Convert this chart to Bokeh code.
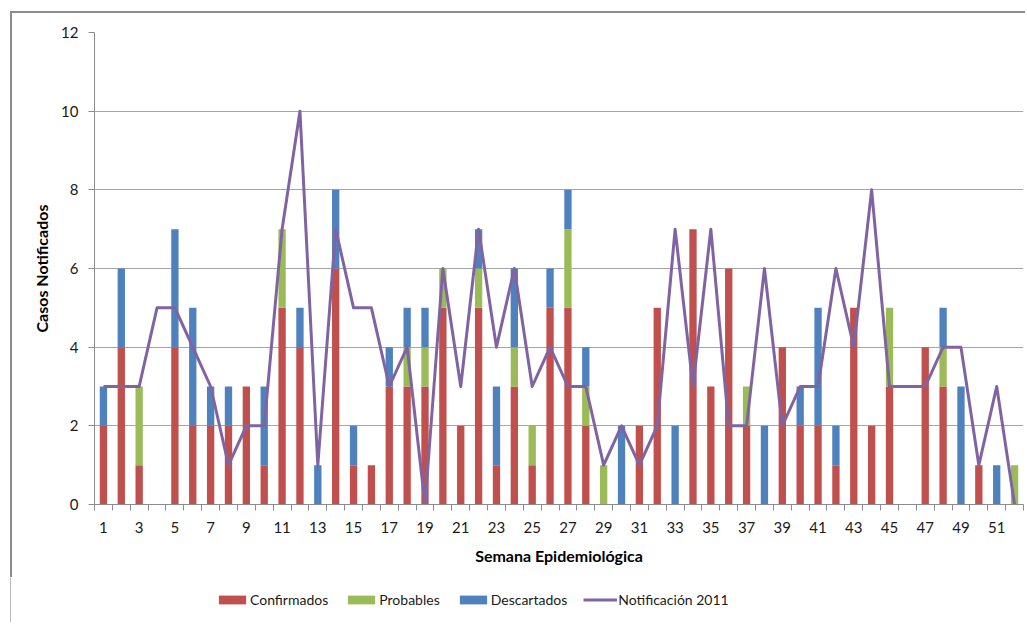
from bokeh.plotting import figure
from bokeh.layouts import column
from bokeh.models import Range1d, FixedTicker, Legend, LegendItem, ColumnDataSource
from bokeh.embed import file_html
from bokeh.resources import INLINE

# Epidemiological weeks 1..52
semanas = list(range(1, 53))

confirmados = [2, 4, 1, 0, 4, 2, 2, 2, 3, 1, 5, 4, 0, 6, 1, 1, 3, 3, 3, 5, 2, 5, 1, 3, 1, 5,
               5, 2, 0, 0, 2, 5, 0, 7, 3, 6, 2, 0, 4, 2, 2, 1, 5, 2, 3, 0, 4, 3, 0, 1, 0, 0]
probables = [0, 0, 2, 0, 0, 0, 0, 0, 0, 0, 2, 0, 0, 0, 0, 0, 0, 1, 1, 1, 0, 1, 0, 1, 1, 0,
             2, 1, 1, 0, 0, 0, 0, 0, 0, 0, 1, 0, 0, 0, 0, 0, 0, 0, 2, 0, 0, 1, 0, 0, 0, 1]
descartados = [1, 2, 0, 0, 3, 3, 1, 1, 0, 2, 0, 1, 1, 2, 1, 0, 1, 1, 1, 0, 0, 1, 2, 2, 0, 1,
               1, 1, 0, 2, 0, 0, 2, 0, 0, 0, 0, 2, 0, 1, 3, 1, 0, 0, 0, 0, 0, 1, 3, 0, 1, 0]
notificacion_2011 = [3, 3, 3, 5, 5, 4, 3, 1, 2, 2, 7, 10, 1, 7, 5, 5, 3, 4, 0, 6, 3, 7, 4, 6, 3, 4,
                     3, 3, 1, 2, 1, 2, 7, 3, 7, 2, 2, 6, 2, 3, 3, 6, 4, 8, 3, 3, 3, 4, 4, 1, 3, 0]

series = ["Confirmados", "Probables", "Descartados"]
linea_label = "Notificación 2011"
x_label_weeks = [w for w in semanas if w % 2 == 1]
y_ticks = [0, 2, 4, 6, 8, 10, 12]

FONT = "Lato"
ROJO, VERDE, AZUL, MORADO = "#C0504D", "#9BBB59", "#4F81BD", "#8064A2"
GRIS = "#8c8c8c"
colores = [ROJO, VERDE, AZUL]

src = ColumnDataSource(dict(semana=semanas, Confirmados=confirmados, Probables=probables,
                            Descartados=descartados, notif=notificacion_2011))

# Main chart (framed by a thin gray border on the left and top)
p = figure(width=1015, height=566, output_backend="svg", toolbar_location=None,
           x_range=Range1d(0.5, 52.5), y_range=Range1d(0, 12),
           min_border_left=82, min_border_right=4, min_border_top=19, min_border_bottom=75)
p.styles = {"border-left": "2px solid #8c8c8c", "border-top": "2px solid #8c8c8c"}
p.outline_line_color = None
p.background_fill_color = "white"
p.border_fill_color = "white"

p.vbar_stack(series, x="semana", width=0.41, color=colores, line_color=None, source=src)
p.line("semana", "notif", source=src, line_color=MORADO, line_width=3, line_join="round")

xa = p.xaxis[0]
xa.ticker = FixedTicker(ticks=x_label_weeks, minor_ticks=[w + 0.5 for w in range(0, 53)])
xa.major_tick_line_color = None
xa.major_tick_out = 0
xa.major_tick_in = 0
xa.minor_tick_out = 6
xa.minor_tick_in = 0
xa.minor_tick_line_color = GRIS
xa.axis_line_color = GRIS
xa.major_label_standoff = 11
xa.major_label_text_font = FONT
xa.major_label_text_font_size = "15px"
xa.major_label_text_color = "#1a1a1a"
xa.axis_label = "Semana Epidemiológica"
xa.axis_label_text_font = FONT
xa.axis_label_text_font_style = "bold"
xa.axis_label_text_font_size = "16px"
xa.axis_label_text_color = "#000000"
xa.axis_label_standoff = 10

ya = p.yaxis[0]
ya.ticker = FixedTicker(ticks=y_ticks, minor_ticks=[])
ya.major_tick_out = 6
ya.major_tick_in = 0
ya.major_tick_line_color = GRIS
ya.minor_tick_line_color = None
ya.axis_line_color = GRIS
ya.major_label_standoff = 10
ya.major_label_text_font = FONT
ya.major_label_text_font_size = "15px"
ya.major_label_text_color = "#1a1a1a"
ya.axis_label = "Casos Notificados"
ya.axis_label_text_font = FONT
ya.axis_label_text_font_style = "bold"
ya.axis_label_text_font_size = "16px"
ya.axis_label_text_color = "#000000"
ya.axis_label_standoff = 7

p.xgrid.grid_line_color = None
p.ygrid.ticker = FixedTicker(ticks=y_ticks)
p.ygrid.grid_line_color = "#a6a6a6"
p.ygrid.grid_line_width = 1

# Legend strip underneath
leg = figure(width=1017, height=45, output_backend="svg", toolbar_location=None,
             x_range=Range1d(0, 1), y_range=Range1d(0, 1),
             x_axis_location=None, y_axis_location=None, tools="",
             min_border_left=0, min_border_right=0, min_border_top=0, min_border_bottom=0)
leg.frame_align = False
leg.outline_line_color = None
leg.border_fill_color = "white"
leg.background_fill_color = "white"
leg.xgrid.visible = False
leg.ygrid.visible = False

items = []
for nombre, c in zip(series, colores):
    r = leg.vbar(x=[-5], top=[1], width=0.1, color=c, line_color=None)
    items.append(LegendItem(label=nombre, renderers=[r]))
rl = leg.line(x=[-5, -4], y=[0.5, 0.5], line_color=MORADO, line_width=3)
items.append(LegendItem(label=linea_label, renderers=[rl]))

legend = Legend(items=items, orientation="horizontal", location=(205, 14))
legend.glyph_width = 34
legend.glyph_height = 11
legend.label_standoff = 1
legend.spacing = 16
legend.padding = 0
legend.margin = 0
legend.border_line_color = None
legend.background_fill_alpha = 0
legend.label_text_font = FONT
legend.label_text_font_size = "14px"
legend.label_text_color = "#1a1a1a"
legend.label_height = 14
leg.add_layout(legend, "center")

layout = column(p, leg, spacing=0)
layout.margin = (11, 0, 0, 10)
layout.styles = {"background-color": "white"}

open("out.html", "w").write(file_html(layout, INLINE))
